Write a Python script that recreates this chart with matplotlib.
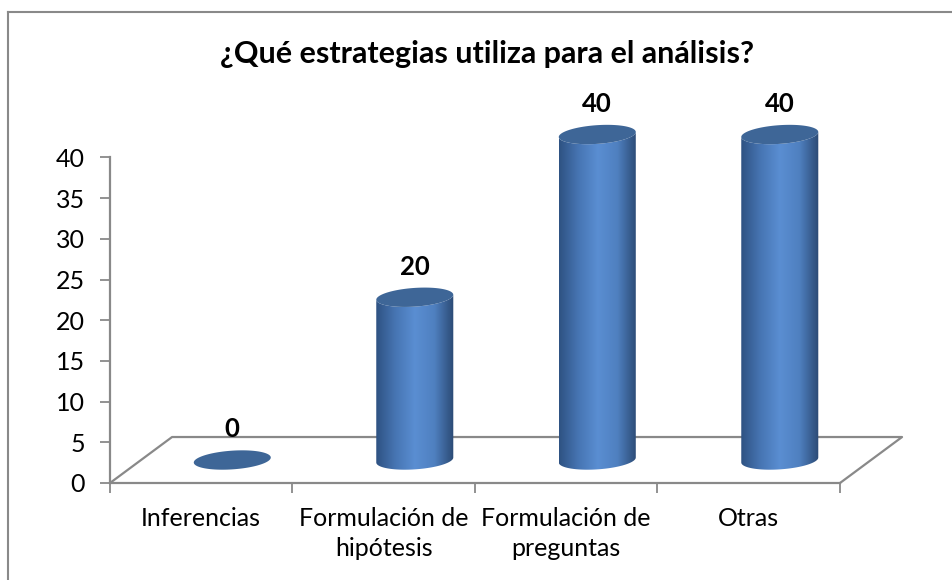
import matplotlib.pyplot as plt
import numpy as np
from matplotlib.colors import LinearSegmentedColormap
from matplotlib.lines import Line2D
from matplotlib.patches import Polygon

plt.rcParams["font.family"] = ["Lato", "DejaVu Sans"]

TITLE = "¿Qué estrategias utiliza para el análisis?"
categories = ["Inferencias", "Formulación de\nhipótesis", "Formulación de\npreguntas", "Otras"]
values = [0, 20, 40, 40]
y_ticks = [0, 5, 10, 15, 20, 25, 30, 35, 40]

# 3D look (in data units)
DEPTH_X = 0.34
DEPTH_Y = 5.65
RADIUS = 0.211
ELL_B = 1.15
SHEAR = 1.45

GRID = "#898989"
TOP_COLOR = "#3e6697"
side_cmap = LinearSegmentedColormap.from_list(
    "side", ["#2e5282", "#4775b3", "#5a8ed2", "#4f80c0", "#2b4a74"]
)


def ellipse_pts(cx, cy, t):
    x = cx + RADIUS * np.cos(t)
    y = cy + ELL_B * np.sin(t) + SHEAR * RADIUS * np.cos(t)
    return x, y


fig = plt.figure(figsize=(9.53, 5.80), dpi=100)
ax = fig.add_axes([110 / 953, 97 / 580, 730 / 953, 325.5 / 580])

n = len(categories)
x_left, x_right = -0.5, n - 0.5

# floor (back edges, behind bars)
ax.plot(
    [x_right, x_right + DEPTH_X, x_left + DEPTH_X, x_left],
    [0, DEPTH_Y, DEPTH_Y, 0],
    color=GRID, lw=1.6, clip_on=False, zorder=1, solid_capstyle="butt",
)

base = DEPTH_Y / 2
for i, v in enumerate(values):
    cx = i + DEPTH_X / 2
    top = base + v
    t_all = np.linspace(0, 2 * np.pi, 120)
    if v > 0:
        t_front = np.linspace(np.pi, 2 * np.pi, 60)
        bx, by = ellipse_pts(cx, base, t_front)
        tx, ty = ellipse_pts(cx, top, t_front[::-1])
        body = Polygon(np.column_stack([np.r_[bx, tx], np.r_[by, ty]]),
                       closed=True, facecolor="none", edgecolor="none",
                       clip_on=False)
        ax.add_patch(body)
        grad = np.linspace(0, 1, 256).reshape(1, -1)
        im = ax.imshow(
            grad, cmap=side_cmap, aspect="auto", interpolation="bilinear",
            extent=[cx - RADIUS, cx + RADIUS, base - 3, top + 3],
            zorder=3,
        )
        im.set_clip_path(body)
        im.set_clip_box(fig.bbox)
    ex, ey = ellipse_pts(cx, top, t_all)
    ax.add_patch(Polygon(np.column_stack([ex, ey]), closed=True,
                         facecolor=TOP_COLOR, edgecolor="none", zorder=4,
                         clip_on=False))
    ax.annotate(f"{v}", (cx, top), xytext=(0, 22), textcoords="offset points",
                ha="center", va="center", fontsize=18.5, fontweight="bold",
                annotation_clip=False)

ax.set_xlim(x_left, x_right)
ax.set_ylim(0, 40)
ax.set_yticks(y_ticks)
ax.set_xticks(np.arange(n + 1) - 0.5)
ax.set_xticklabels([])
ax.set_xticks(np.arange(n), minor=True)
ax.set_xticklabels(categories, minor=True, fontsize=18, linespacing=1.4)
ax.tick_params(axis="x", which="major", length=7, width=1.3, color=GRID, direction="out")
ax.tick_params(axis="x", which="minor", length=0, pad=17)
ax.tick_params(axis="y", length=7, width=1.3, color=GRID, labelsize=18, pad=11)
for side in ["top", "right"]:
    ax.spines[side].set_visible(False)
for side in ["left", "bottom"]:
    ax.spines[side].set_color(GRID)
    ax.spines[side].set_linewidth(1.6)
ax.patch.set_visible(False)

fig.text(487 / 953, 1 - 54 / 580, TITLE, ha="center", va="center",
         fontsize=22, fontweight="bold")

# chart area border (top and left edges visible)
fig.add_artist(Line2D([8 / 953, 1.0], [1 - 12 / 580] * 2, color=GRID, lw=1.5))
fig.add_artist(Line2D([8 / 953] * 2, [0, 1 - 12 / 580], color=GRID, lw=1.5))

fig.savefig("out.png", dpi=100)
